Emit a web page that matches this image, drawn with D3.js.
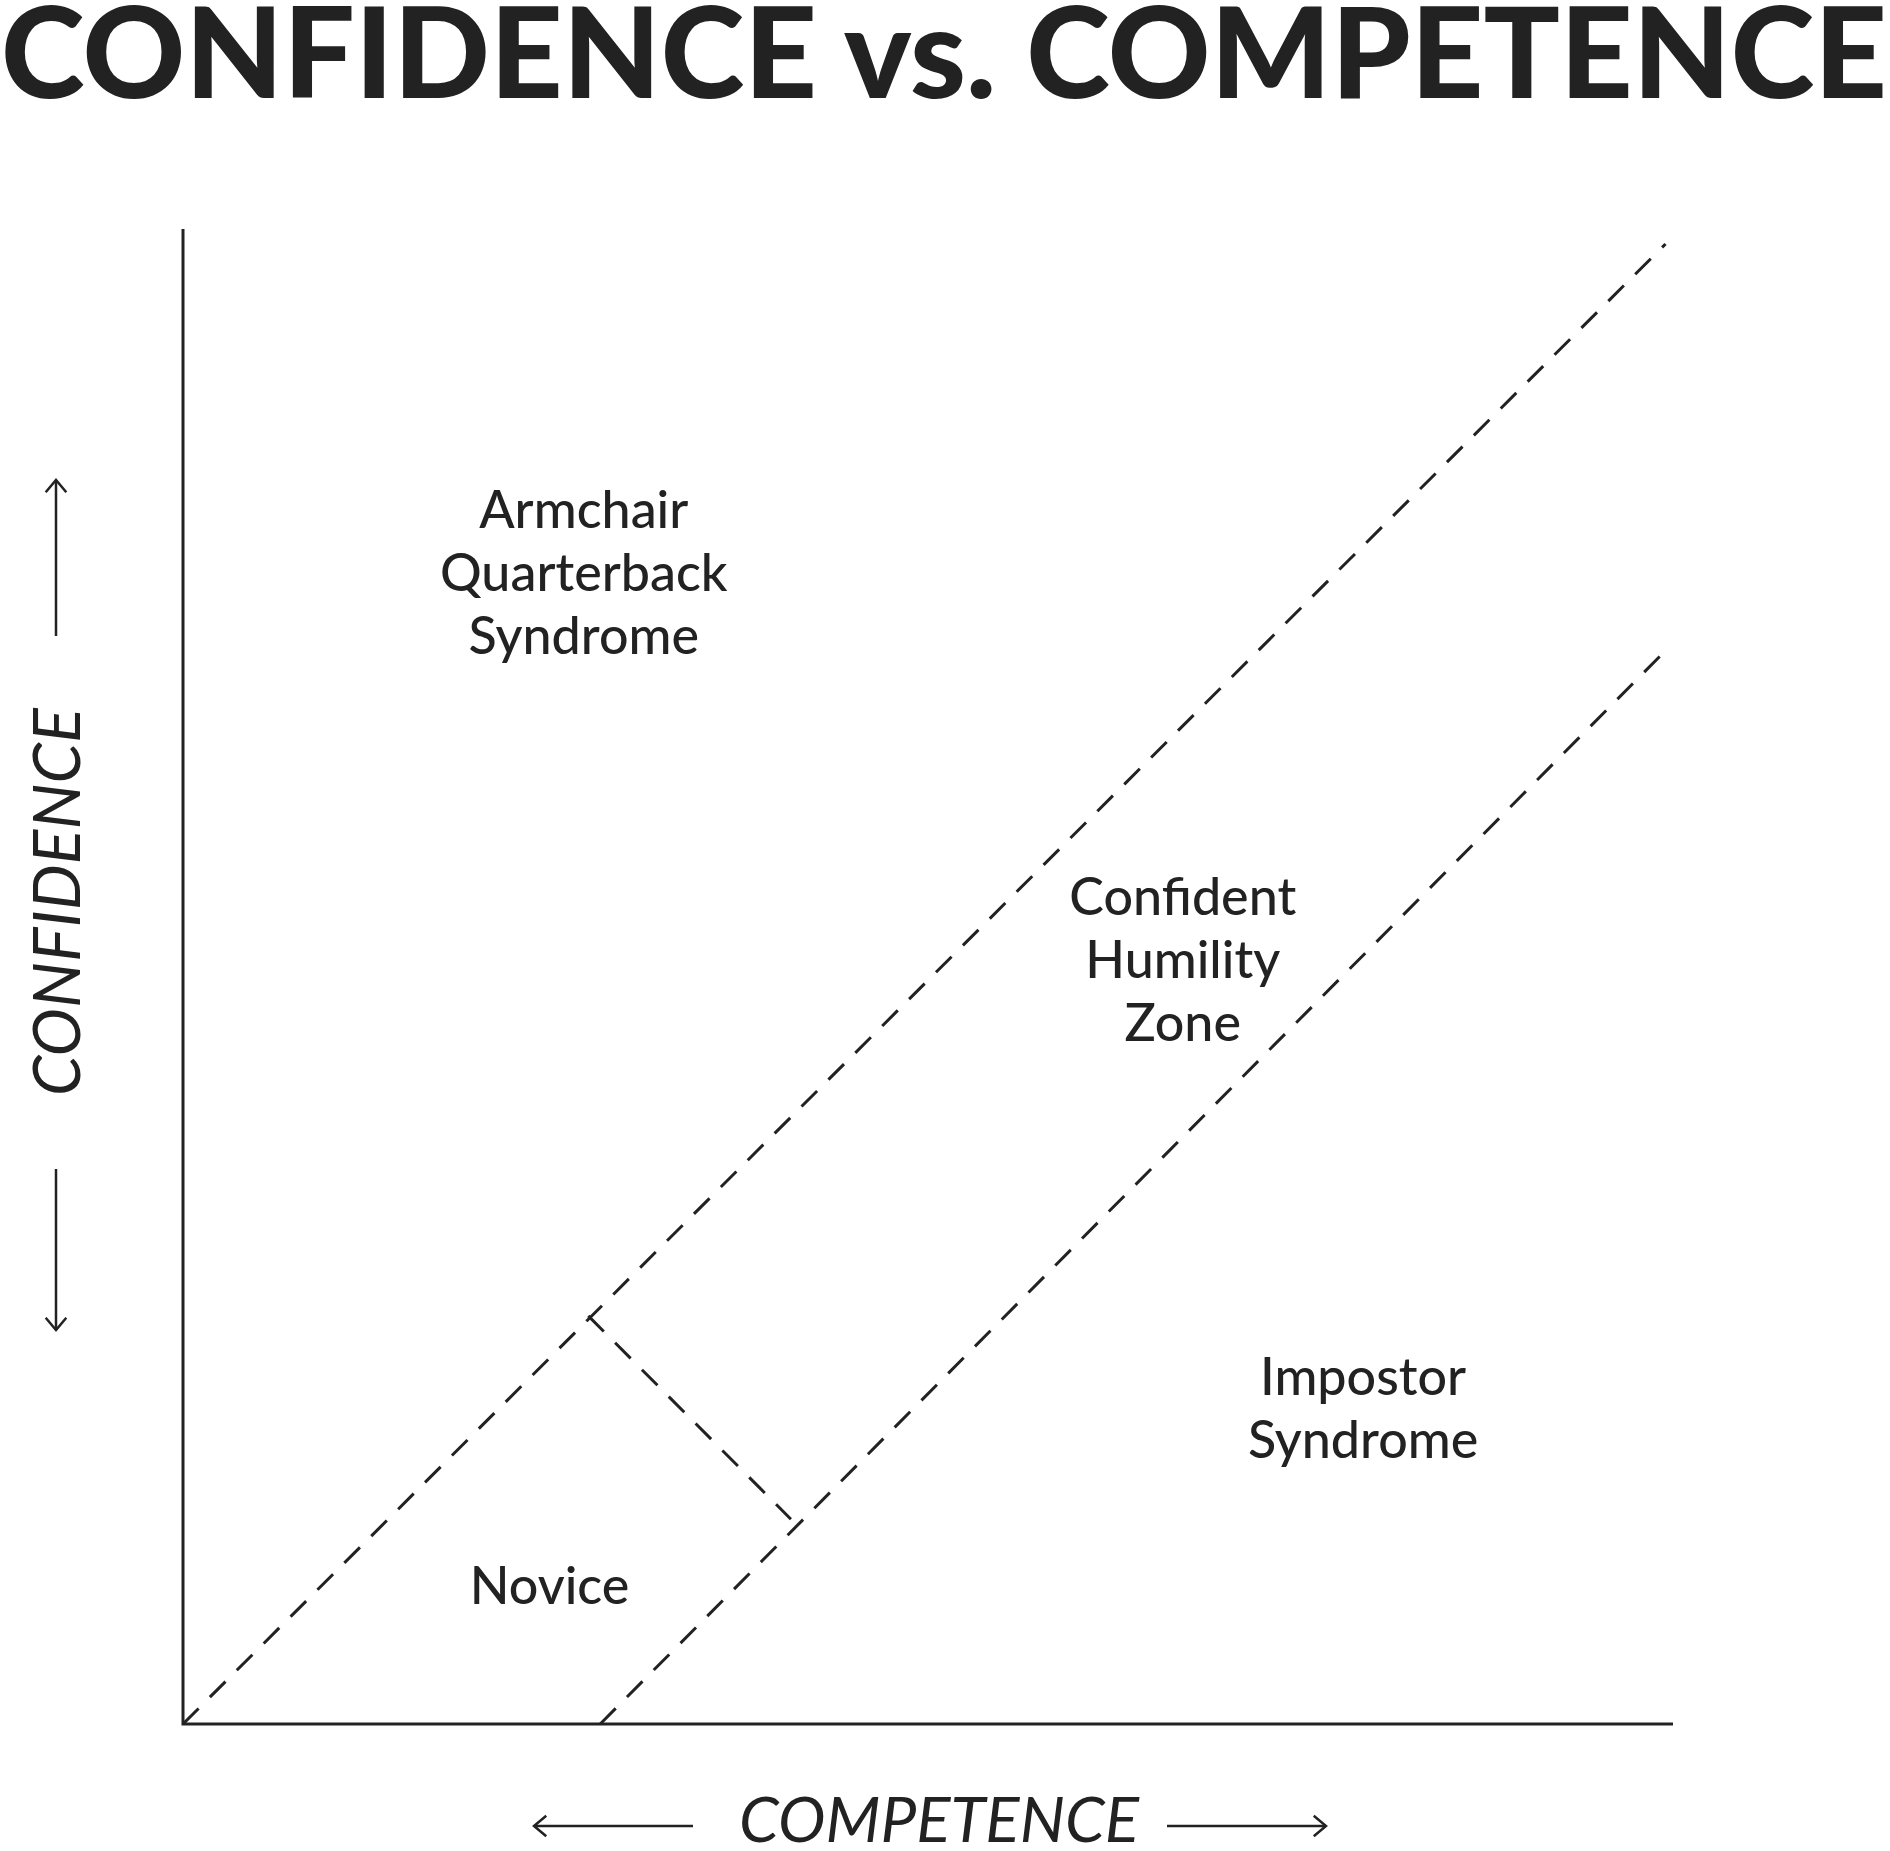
<!DOCTYPE html>
<html lang="en">
<head>
  <meta charset="UTF-8">
  <title>Confidence vs Competence</title>
  <script src="https://d3js.org/d3.v7.min.js"></script>
  <style>
    body { margin: 0; background: #fff; }
    text { fill: #222; }
  </style>
</head>
<body>
  <div id="chart"></div>
  <script>
    const width = 1890, height = 1851;

    // dashed guide lines in data space (competence, confidence)
    const guideLines = [
      { name: "upper", points: [[0, 0], [0.995, 0.99]] },
      { name: "lower", points: [[0.28, 0], [0.997, 0.72]] },
      { name: "novice", points: [[0.272, 0.273], [0.408, 0.137]] }
    ];
    // zone labels
    const zoneNames = ["Armchair\nQuarterback\nSyndrome", "Confident\nHumility\nZone", "Impostor\nSyndrome", "Novice"];
    const zoneX = [0.269, 0.671, 0.792, 0.246];
    const zoneY = [0.8, 0.541, 0.22, 0.08];

    const svg = d3.select("#chart").append("svg")
      .attr("width", width).attr("height", height);

    const x = d3.scaleLinear().domain([0, 1]).range([183, 1673]);
    const y = d3.scaleLinear().domain([0, 1]).range([1724, 229]);

    // title
    svg.append("text")
      .attr("x", 1).attr("y", 98)
      .attr("textLength", 1886).attr("lengthAdjust", "spacingAndGlyphs")
      .attr("font-family", "Lato, sans-serif").attr("font-weight", 900)
      .attr("font-size", 126)
      .text("CONFIDENCE vs. COMPETENCE");

    // axes
    svg.append("path")
      .attr("d", `M${x(0)},${y(1)}V${y(0)}H${x(1)}`)
      .attr("fill", "none").attr("stroke", "#222").attr("stroke-width", 3);

    const line = d3.line().x(d => x(d[0])).y(d => y(d[1]));
    svg.selectAll(".guide").data(guideLines).join("path")
      .attr("class", "guide")
      .attr("d", d => line(d.points))
      .attr("fill", "none").attr("stroke", "#222").attr("stroke-width", 3)
      .attr("stroke-dasharray", "22,16");

    // zone labels
    zoneNames.forEach((name, i) => {
      const t = svg.append("text")
        .attr("text-anchor", "middle")
        .attr("font-family", "Lato, sans-serif").attr("font-weight", 500)
        .attr("font-size", 52);
      name.split("\n").forEach((ln, j) => {
        t.append("tspan").attr("x", x(zoneX[i]))
          .attr("y", y(zoneY[i]) + j * 63).text(ln);
      });
    });

    // arrows
    const arrow = (x1, y1, x2, y2) => {
      svg.append("line").attr("x1", x1).attr("y1", y1).attr("x2", x2).attr("y2", y2)
        .attr("stroke", "#222").attr("stroke-width", 2.5);
      const a = Math.atan2(y2 - y1, x2 - x1), L = 16;
      svg.append("path")
        .attr("d", `M${x2 - L * Math.cos(a - 0.7)},${y2 - L * Math.sin(a - 0.7)}L${x2},${y2}L${x2 - L * Math.cos(a + 0.7)},${y2 - L * Math.sin(a + 0.7)}`)
        .attr("fill", "none").attr("stroke", "#222").attr("stroke-width", 2.5);
    };

    // x axis title
    svg.append("text")
      .attr("x", 939).attr("y", 1842).attr("text-anchor", "middle")
      .attr("textLength", 400).attr("lengthAdjust", "spacingAndGlyphs")
      .attr("font-family", "Lato, sans-serif").attr("font-style", "italic")
      .attr("font-size", 62).text("COMPETENCE");
    arrow(693, 1826, 534, 1826);
    arrow(1167, 1826, 1326, 1826);

    // y axis title
    svg.append("text")
      .attr("transform", "translate(80,902) rotate(-90)")
      .attr("text-anchor", "middle")
      .attr("textLength", 388).attr("lengthAdjust", "spacingAndGlyphs")
      .attr("font-family", "Lato, sans-serif").attr("font-style", "italic")
      .attr("font-size", 66).text("CONFIDENCE");
    arrow(56, 636, 56, 480);
    arrow(56, 1169, 56, 1330);
  </script>
</body>
</html>
